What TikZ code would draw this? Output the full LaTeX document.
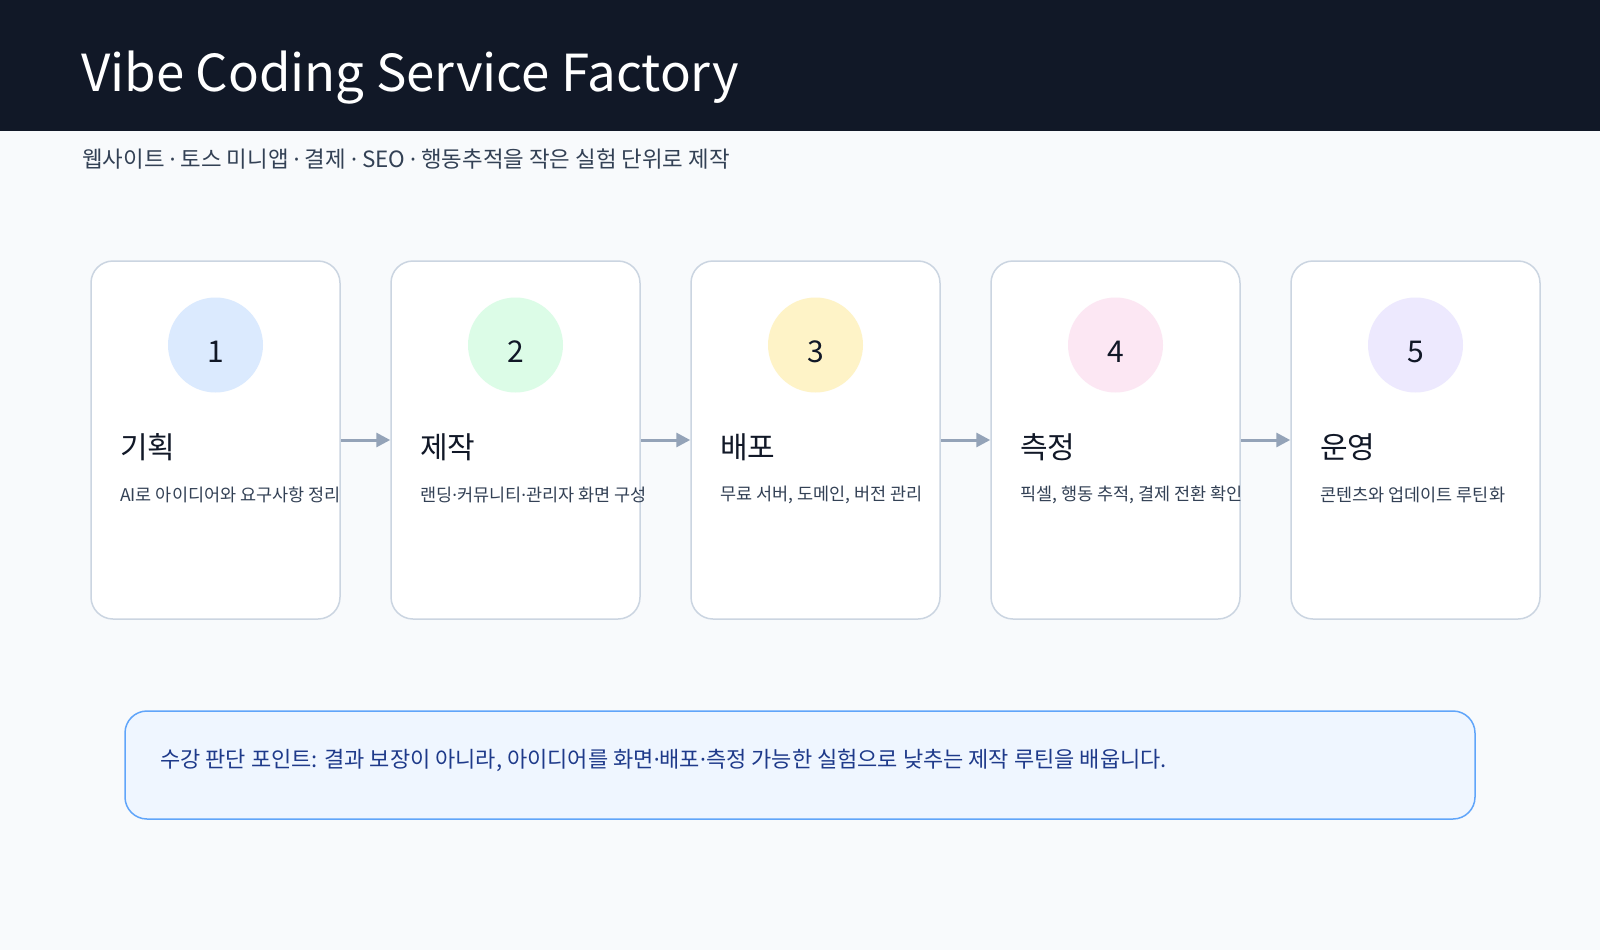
\documentclass[tikz,border=0pt]{standalone}
\usepackage{fontspec}
\setmainfont{Noto Sans CJK KR}
\newfontfamily\dotfont{Noto Sans}
\newcommand{\mdot}{{\dotfont ·}}
\usetikzlibrary{
  arrows.meta,
  positioning
}
\definecolor{vibeBg}{HTML}{F8FAFC}
\definecolor{vibeNavy}{HTML}{111827}
\definecolor{vibeInk}{HTML}{111827}
\definecolor{vibeSlate}{HTML}{334155}
\definecolor{vibeBorder}{HTML}{CBD5E1}
\definecolor{vibeArrow}{HTML}{94A3B8}
\definecolor{vibeNoteLine}{HTML}{60A5FA}
\definecolor{vibeNoteFill}{HTML}{EFF6FF}
\definecolor{vibeNoteText}{HTML}{1E3A8A}
\definecolor{stepBlue}{HTML}{DBEAFE}
\definecolor{stepGreen}{HTML}{DCFCE7}
\definecolor{stepYellow}{HTML}{FEF3C7}
\definecolor{stepPink}{HTML}{FCE7F3}
\definecolor{stepPurple}{HTML}{EDE9FE}
\tikzset{
  vibeCard/.style={
    draw=vibeBorder,
    line width=1.5pt,
    fill=white,
    rounded corners=22pt,
    minimum width=249pt,
    minimum height=358pt,
    inner sep=0pt
  },
  stepDot/.style={
    circle,
    minimum size=95pt,
    inner sep=0pt
  },
  stepNum/.style={
    inner sep=0pt,
    text=vibeInk,
    font=\fontsize{30}{36}\selectfont
  },
  stepTitle/.style={
    anchor=west,
    inner sep=0pt,
    text=vibeInk,
    font=\fontsize{30}{36}\selectfont
  },
  stepDesc/.style={
    anchor=west,
    inner sep=0pt,
    text=vibeSlate,
    font=\fontsize{17.5}{21}\selectfont
  },
  flowArrow/.style={-{Triangle[length=14pt,width=14pt]}, line width=3pt, vibeArrow},
  noteBox/.style={
    draw=vibeNoteLine,
    line width=1.5pt,
    fill=vibeNoteFill,
    rounded corners=22pt,
    minimum width=1350pt,
    minimum height=108pt,
    inner sep=0pt
  }
}

\begin{document}
\begin{tikzpicture}[x=1pt,y=-1pt]
  \useasboundingbox (0,0) rectangle (1600,950);
  \fill[vibeBg] (0,0) rectangle (1600,950);
  \fill[vibeNavy] (0,0) rectangle (1600,131);

  \node[anchor=west, inner sep=0pt, text=white, font=\fontsize{51}{60}\selectfont]
    (title) at (81,78) {Vibe Coding Service Factory};
  \node[anchor=west, inner sep=0pt, text=vibeSlate, font=\fontsize{22.4}{27}\selectfont]
    (subtitle) at (82,159) {웹사이트 \mdot{} 토스 미니앱 \mdot{} 결제 \mdot{} SEO \mdot{} 행동추적을 작은 실험 단위로 제작};

  \foreach \name/\desc/\dotc [count=\k] in {
      기획/AI로 아이디어와 요구사항 정리/stepBlue,
      제작/랜딩\mdot 커뮤니티\mdot 관리자 화면 구성/stepGreen,
      배포/{무료 서버, 도메인, 버전 관리}/stepYellow,
      측정/{픽셀, 행동 추적, 결제 전환 확인}/stepPink,
      운영/콘텐츠와 업데이트 루틴화/stepPurple} {
    \node[vibeCard] (card\k) at ({215.5+300*(\k-1)},440) {};
    \node[stepDot, fill=\dotc] (dot\k) at ({215.5+300*(\k-1)},345) {};
    \node[stepNum] (num\k) at ({215.5+300*(\k-1)},352) {\k};
    \node[stepTitle] (name\k) at ({120+300*(\k-1)},447) {\name};
    \node[stepDesc] (desc\k) at ({120+300*(\k-1)},495) {\desc};
  }
  \foreach \a/\b in {1/2,2/3,3/4,4/5} {
    \draw[flowArrow] (card\a) -- (card\b);
  }

  \node[noteBox] (note) at (800,765) {};
  \node[anchor=west, inner sep=0pt, text=vibeNoteText, font=\fontsize{22}{26}\selectfont]
    (noteText) at (160,760) {수강 판단 포인트: 결과 보장이 아니라, 아이디어를 화면\mdot 배포\mdot 측정 가능한 실험으로 낮추는 제작 루틴을 배웁니다.};
\end{tikzpicture}
\end{document}
